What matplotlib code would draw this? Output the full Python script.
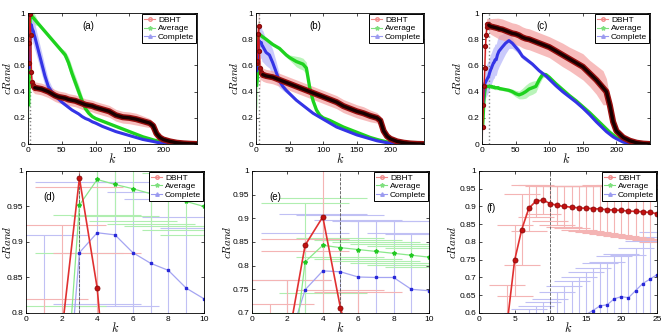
import numpy as np
import matplotlib.pyplot as plt
from matplotlib.lines import Line2D
from matplotlib.ticker import FuncFormatter

plt.rcParams['font.family'] = ['Liberation Sans', 'DejaVu Sans']
plt.rcParams['mathtext.fontset'] = 'cm'
plt.rcParams['font.size'] = 6

# cluster counts k (dense at the start, sparser later)
k_ab = [1, 2, 3, 4, 5, 6, 7, 8, 9, 10,
        15, 20, 25, 30, 35, 40, 45, 50, 55, 60, 65, 70, 75, 80, 85, 90, 95, 100,
        110, 120, 130, 140, 150, 160, 170, 180,
        185, 190, 195, 200,
        210, 220, 230, 240, 250]
k_c = list(range(1, 26)) + [30, 35, 40, 45, 50, 55, 60, 65, 70, 75, 80, 85, 90, 95, 100,
                            110, 120, 130, 140, 150, 160, 170, 180,
                            185, 190, 195, 200,
                            210, 220, 230, 240, 250]

# dataset (a)/(d)
dbht_a = [0.62, 0.77, 0.99, 0.835, 0.55, 0.47, 0.45, 0.44, 0.435, 0.43,
          0.425, 0.42, 0.41, 0.40, 0.385, 0.37, 0.36, 0.355, 0.35, 0.34, 0.335, 0.33, 0.32, 0.31, 0.30, 0.295, 0.29, 0.28,
          0.265, 0.25, 0.22, 0.205, 0.20, 0.19, 0.175, 0.16,
          0.14, 0.08, 0.05, 0.035,
          0.02, 0.01, 0.005, 0.002, 0.0]
dbht_a_err = [0.2, 0.154, 0.013, 0.05, 0.1, 0.06, 0.05, 0.045, 0.045, 0.045,
              0.045, 0.045, 0.045, 0.045, 0.045, 0.045, 0.045, 0.045, 0.045, 0.045, 0.045, 0.045, 0.045, 0.045, 0.045, 0.045, 0.045, 0.045,
              0.045, 0.045, 0.045, 0.045, 0.045, 0.045, 0.04, 0.035,
              0.03, 0.02, 0.015, 0.01,
              0.005, 0.004, 0.003, 0.002, 0.001]
avg_a = [0.3, 0.6, 0.952, 0.988, 0.981, 0.975, 0.968, 0.963, 0.957, 0.95,
         0.92, 0.89, 0.86, 0.83, 0.80, 0.77, 0.74, 0.71, 0.68, 0.62, 0.54, 0.47, 0.40, 0.33, 0.27, 0.235, 0.21, 0.195,
         0.175, 0.155, 0.135, 0.115, 0.095, 0.075, 0.055, 0.04,
         0.032, 0.025, 0.018, 0.012,
         0.004, 0.0, 0.0, 0.0, 0.0]
avg_a_err = [0.2, 0.21, 0.067, 0.05, 0.045, 0.045, 0.042, 0.04, 0.04, 0.04,
             0.015, 0.012, 0.01, 0.01, 0.01, 0.012, 0.015, 0.02, 0.03, 0.045, 0.05, 0.05, 0.05, 0.04, 0.025, 0.015, 0.01, 0.008,
             0.006, 0.006, 0.006, 0.006, 0.006, 0.006, 0.006, 0.006,
             0.005, 0.005, 0.005, 0.005,
             0.003, 0.002, 0.001, 0.0, 0.0]
comp_a = [0.70, 0.58, 0.885, 0.913, 0.91, 0.885, 0.87, 0.86, 0.835, 0.82,
          0.72, 0.62, 0.52, 0.44, 0.40, 0.37, 0.345, 0.32, 0.30, 0.28, 0.26, 0.245, 0.23, 0.21, 0.195, 0.185, 0.17, 0.16,
          0.135, 0.115, 0.095, 0.08, 0.065, 0.05, 0.035, 0.025,
          0.02, 0.014, 0.009, 0.005,
          0.001, 0.0, 0.0, 0.0, 0.0]
comp_a_err = [0.21, 0.2, 0.1, 0.1, 0.1, 0.1, 0.1, 0.1, 0.1, 0.1,
              0.09, 0.085, 0.075, 0.055, 0.04, 0.03, 0.02, 0.015, 0.012, 0.01, 0.01, 0.01, 0.01, 0.01, 0.008, 0.008, 0.008, 0.008,
              0.006, 0.006, 0.006, 0.006, 0.006, 0.006, 0.006, 0.006,
              0.005, 0.005, 0.005, 0.005,
              0.002, 0.001, 0.0, 0.0, 0.0]

# dataset (b)/(e)
dbht_b = [0.62, 0.633, 0.843, 0.903, 0.71, 0.58, 0.55, 0.54, 0.535, 0.53,
          0.52, 0.515, 0.51, 0.50, 0.49, 0.48, 0.47, 0.46, 0.45, 0.44, 0.43, 0.42, 0.41, 0.40, 0.39, 0.38, 0.37, 0.36,
          0.34, 0.32, 0.29, 0.27, 0.25, 0.235, 0.215, 0.20,
          0.18, 0.10, 0.06, 0.04,
          0.02, 0.01, 0.004, 0.001, 0.0]
dbht_b_err = [0.1, 0.137, 0.0125, 0.22, 0.039, 0.165, 0.06, 0.05, 0.05, 0.05,
              0.05, 0.05, 0.05, 0.05, 0.05, 0.05, 0.05, 0.05, 0.05, 0.05, 0.05, 0.05, 0.05, 0.05, 0.05, 0.05, 0.05, 0.05,
              0.05, 0.05, 0.05, 0.05, 0.05, 0.05, 0.045, 0.04,
              0.035, 0.025, 0.015, 0.01,
              0.005, 0.004, 0.003, 0.002, 0.001]
avg_b = [0.45, 0.5, 0.808, 0.843, 0.838, 0.834, 0.83, 0.826, 0.822, 0.818,
         0.80, 0.78, 0.76, 0.745, 0.73, 0.705, 0.68, 0.66, 0.645, 0.63, 0.62, 0.61, 0.58, 0.43, 0.33, 0.26, 0.22, 0.20,
         0.18, 0.155, 0.13, 0.11, 0.09, 0.07, 0.05, 0.035,
         0.028, 0.022, 0.016, 0.01,
         0.003, 0.0, 0.0, 0.0, 0.0]
avg_b_err = [0.2, 0.2, 0.124, 0.1, 0.02, 0.02, 0.02, 0.02, 0.02, 0.02,
             0.01, 0.01, 0.01, 0.01, 0.01, 0.01, 0.015, 0.02, 0.03, 0.04, 0.045, 0.045, 0.045, 0.04, 0.03, 0.02, 0.012, 0.01,
             0.008, 0.008, 0.008, 0.008, 0.008, 0.008, 0.008, 0.008,
             0.005, 0.005, 0.005, 0.005,
             0.003, 0.001, 0.0, 0.0, 0.0]
comp_b = [0.56, 0.63, 0.749, 0.789, 0.787, 0.776, 0.775, 0.775, 0.75, 0.747,
          0.70, 0.68, 0.62, 0.55, 0.48, 0.44, 0.41, 0.385, 0.36, 0.335, 0.315, 0.295, 0.275, 0.255, 0.235, 0.22, 0.205, 0.19,
          0.16, 0.13, 0.11, 0.09, 0.07, 0.055, 0.04, 0.025,
          0.02, 0.015, 0.01, 0.005,
          0.001, 0.0, 0.0, 0.0, 0.0]
comp_b_err = [0.12, 0.14, 0.12, 0.12, 0.12, 0.12, 0.12, 0.12, 0.12, 0.12,
              0.1, 0.1, 0.1, 0.08, 0.05, 0.03, 0.02, 0.015, 0.012, 0.01, 0.01, 0.01, 0.01, 0.01, 0.008, 0.008, 0.008, 0.008,
              0.006, 0.006, 0.006, 0.006, 0.006, 0.006, 0.006, 0.006,
              0.004, 0.004, 0.004, 0.004,
              0.002, 0.001, 0.0, 0.0, 0.0]

# dataset (c)/(f)
dbht_c = [0.13, 0.30, 0.44, 0.578, 0.748, 0.835, 0.895, 0.915, 0.918, 0.908, 0.903, 0.90, 0.898, 0.896, 0.895,
          0.894, 0.893, 0.891, 0.89, 0.889, 0.887, 0.886, 0.885, 0.883, 0.88,
          0.875, 0.865, 0.855, 0.845, 0.84, 0.83, 0.815, 0.805, 0.80, 0.79, 0.78, 0.77, 0.76, 0.75, 0.74,
          0.71, 0.68, 0.65, 0.62, 0.59, 0.54, 0.49, 0.43,
          0.40, 0.30, 0.17, 0.10,
          0.05, 0.025, 0.01, 0.003, 0.0]
dbht_c_err = [0.1, 0.1, 0.1, 0.1, 0.1, 0.1, 0.065, 0.045, 0.04, 0.05, 0.055, 0.057, 0.06, 0.062, 0.063,
              0.065, 0.067, 0.068, 0.07, 0.071, 0.073, 0.075, 0.076, 0.078, 0.08,
              0.08, 0.08, 0.08, 0.08, 0.08, 0.08, 0.08, 0.08, 0.08, 0.08, 0.08, 0.08, 0.08, 0.08, 0.08,
              0.085, 0.09, 0.09, 0.095, 0.1, 0.1, 0.11, 0.13,
              0.1, 0.06, 0.04, 0.03,
              0.02, 0.012, 0.006, 0.003, 0.001]
avg_c = [0.15, 0.25, 0.35, 0.40, 0.43, 0.44, 0.44, 0.44, 0.44, 0.44, 0.44, 0.44, 0.44, 0.44, 0.435,
         0.435, 0.435, 0.435, 0.43, 0.43, 0.43, 0.43, 0.43, 0.43, 0.425,
         0.42, 0.415, 0.41, 0.40, 0.385, 0.375, 0.385, 0.40, 0.42, 0.43, 0.44, 0.49, 0.53, 0.53, 0.51,
         0.46, 0.415, 0.37, 0.33, 0.285, 0.24, 0.19, 0.14,
         0.115, 0.09, 0.07, 0.05,
         0.02, 0.008, 0.002, 0.0, 0.0]
avg_c_err = [0.05, 0.05, 0.05, 0.04, 0.02, 0.015, 0.015, 0.015, 0.015, 0.015, 0.015, 0.015, 0.015, 0.015, 0.015,
             0.015, 0.015, 0.015, 0.015, 0.015, 0.015, 0.015, 0.015, 0.015, 0.015,
             0.012, 0.012, 0.015, 0.02, 0.025, 0.03, 0.04, 0.05, 0.05, 0.05, 0.045, 0.035, 0.025, 0.015, 0.012,
             0.01, 0.01, 0.01, 0.01, 0.01, 0.01, 0.01, 0.01,
             0.008, 0.006, 0.005, 0.004,
             0.003, 0.002, 0.001, 0.0, 0.0]
comp_c = [0.30, 0.38, 0.43, 0.46, 0.47, 0.48, 0.49, 0.50, 0.51, 0.52, 0.54, 0.555, 0.57, 0.58, 0.595,
          0.607, 0.62, 0.623, 0.64, 0.646, 0.643, 0.663, 0.683, 0.695, 0.708,
          0.74, 0.77, 0.79, 0.77, 0.74, 0.71, 0.67, 0.65, 0.63, 0.61, 0.585, 0.56, 0.54, 0.52, 0.495,
          0.445, 0.40, 0.36, 0.32, 0.275, 0.225, 0.17, 0.12,
          0.095, 0.075, 0.055, 0.04,
          0.015, 0.005, 0.0, 0.0, 0.0]
comp_c_err = [0.12] * 25 + \
             [0.1, 0.08, 0.06, 0.04, 0.03, 0.025, 0.02, 0.018, 0.016, 0.015, 0.015, 0.015, 0.015, 0.015, 0.015,
              0.015, 0.015, 0.012, 0.012, 0.01, 0.01, 0.01, 0.008,
              0.006, 0.005, 0.004, 0.003,
              0.002, 0.001, 0.0, 0.0, 0.0]

k_cut = [3, 5, 10]
panel_labels = ['(a)', '(b)', '(c)', '(d)', '(e)', '(f)']
legend_names = ['DBHT', 'Average', 'Complete']

fig = plt.figure(figsize=(6.64, 3.35), dpi=100)

fmt = FuncFormatter(lambda v, p: '%g' % round(v, 3))


def style(ax, xlim, ylim, xticks, yticks, ylab_x):
    ax.set_xlim(xlim)
    ax.set_ylim(ylim)
    ax.set_xticks(xticks)
    ax.set_yticks(yticks)
    ax.xaxis.set_major_formatter(fmt)
    ax.yaxis.set_major_formatter(fmt)
    ax.tick_params(direction='in', top=True, right=True, length=2.5, width=0.5, labelsize=6, pad=2)
    for s in ax.spines.values():
        s.set_linewidth(0.6)
    ax.set_xlabel('$k$', fontsize=9, labelpad=-1)
    ax.set_ylabel('$cRand$', fontsize=8)
    ax.yaxis.set_label_coords(ylab_x, 0.5)
    handles = [Line2D([], [], color='#f08a8a', lw=0.8, marker='o', ms=2.5, mfc='none'),
               Line2D([], [], color='#7fe07f', lw=0.8, marker='*', ms=3),
               Line2D([], [], color='#9a9af0', lw=0.8, marker='^', ms=2.5)]
    leg = ax.legend(handles, legend_names, loc='upper right', fontsize=6, fancybox=False,
                    edgecolor='black', framealpha=1, borderaxespad=0.1, handlelength=1.3,
                    labelspacing=0.1, borderpad=0.25, handletextpad=0.35)
    leg.get_frame().set_linewidth(0.7)


def top_panel(rect, k, d, de, a, ae, c, ce, kc, label, ylab_x):
    ax = fig.add_axes(rect)
    k = np.array(k)
    d, de, a, ae, c, ce = [np.array(x) for x in (d, de, a, ae, c, ce)]
    ax.fill_between(k, a - ae, a + ae, color='#9cf09c', alpha=0.7, lw=0)
    ax.fill_between(k, c - ce, c + ce, color='#b4b4fa', alpha=0.7, lw=0)
    ax.fill_between(k, d - de, d + de, color='#f4a0a0', alpha=0.7, lw=0)
    ax.axvline(kc, color='#888888', ls=':', lw=1)
    ax.plot(k, a, color='#1ed21e', lw=2.4)
    ax.plot(k, c, color='#3434e6', lw=2.2)
    early = k <= 10
    late = k >= 10
    ax.plot(k[early], d[early], color='#d01818', lw=1, marker='o', ms=2.8, mfc='#b81010', mec='#8a0c0c')
    ax.plot(k[late], d[late], color='#9a1010', lw=4.4, solid_capstyle='round')
    ax.plot(k[late], d[late], color='#1a0000', lw=2.4, solid_capstyle='round')
    style(ax, (0, 250), (0, 1), [0, 50, 100, 150, 200], [0, 0.2, 0.4, 0.6, 0.8, 1], ylab_x)
    ax.text(89, 0.905, label, fontsize=7, ha='center', va='center')
    return ax


def bottom_panel(rect, k, d, de, a, ae, c, ce, kc, label, xmax, ylo, xticks, yticks, cap, label_xy, ylab_x):
    ax = fig.add_axes(rect)
    ax.errorbar(k, c, yerr=ce, fmt='none', ecolor='#c0c0f4', elinewidth=0.8, capsize=cap, capthick=0.8)
    ax.errorbar(k, a, yerr=ae, fmt='none', ecolor='#b0eeb0', elinewidth=0.8, capsize=cap, capthick=0.8)
    ax.errorbar(k, d, yerr=de, fmt='none', ecolor='#f4b4b4', elinewidth=0.8, capsize=cap, capthick=0.8)
    ax.axvline(kc, color='#555555', ls='--', lw=0.6)
    ax.plot(k, c, color='#a4a4f2', lw=0.9, marker='s', ms=1.8, mfc='#2828d8', mec='#2828d8')
    ax.plot(k, a, color='#8ae88a', lw=0.9, marker='*', ms=3, mfc='#22c822', mec='#22c822')
    ax.plot(k, d, color='#e03030', lw=1.2, marker='o', ms=3.6, mfc='#c41010', mec='#8a0a0a', mew=0.6)
    style(ax, (0, xmax), (ylo, 1), xticks, yticks, ylab_x)
    ax.text(label_xy[0], label_xy[1], label, fontsize=7, ha='left', va='center')
    return ax


top_panel([0.0422, 0.570, 0.2545, 0.391], k_ab, dbht_a, dbht_a_err, avg_a, avg_a_err,
          comp_a, comp_a_err, k_cut[0], panel_labels[0], -0.086)
top_panel([0.3855, 0.570, 0.253, 0.391], k_ab, dbht_b, dbht_b_err, avg_b, avg_b_err,
          comp_b, comp_b_err, k_cut[1], panel_labels[1], -0.095)
top_panel([0.726, 0.570, 0.253, 0.391], k_c, dbht_c, dbht_c_err, avg_c, avg_c_err,
          comp_c, comp_c_err, k_cut[2], panel_labels[2], -0.113)

bottom_panel([0.0392, 0.0657, 0.268, 0.424], k_ab, dbht_a, dbht_a_err, avg_a, avg_a_err,
             comp_a, comp_a_err, k_cut[0], panel_labels[3], 10, 0.8,
             [0, 2, 4, 6, 8, 10], [0.8, 0.85, 0.9, 0.95, 1], 32, (1.0, 0.964), -0.075)
bottom_panel([0.3795, 0.0657, 0.2666, 0.424], k_ab, dbht_b, dbht_b_err, avg_b, avg_b_err,
             comp_b, comp_b_err, k_cut[1], panel_labels[4], 10, 0.7,
             [0, 2, 4, 6, 8, 10], [0.7, 0.75, 0.8, 0.85, 0.9, 0.95, 1], 32, (1.0, 0.944), -0.107)
bottom_panel([0.7214, 0.0657, 0.268, 0.424], k_c, dbht_c, dbht_c_err, avg_c, avg_c_err,
             comp_c, comp_c_err, k_cut[2], panel_labels[5], 25, 0.6,
             [0, 5, 10, 15, 20, 25], [0.6, 0.65, 0.7, 0.75, 0.8, 0.85, 0.9, 0.95, 1], 12.8, (1.0, 0.895), -0.118)

fig.savefig('out.png', dpi=100)
